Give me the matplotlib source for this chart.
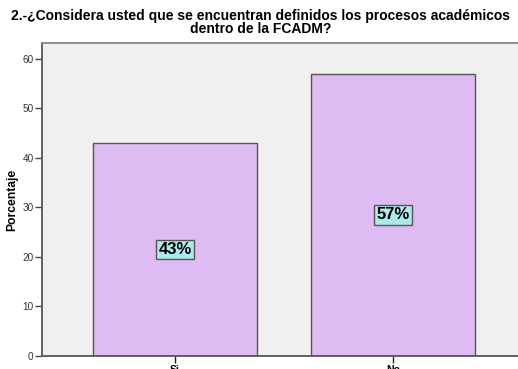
import matplotlib
matplotlib.use("Agg")
import matplotlib.pyplot as plt

categories = ["Si", "No"]
percentages = [43, 57]
title = "2.-¿Considera usted que se encuentran definidos los procesos académicos\ndentro de la FCADM?"
y_ticks = [0, 10, 20, 30, 40, 50, 60]

plt.rcParams["font.family"] = ["Liberation Sans", "DejaVu Sans"]

fig = plt.figure(figsize=(5.18, 3.69), dpi=100)
ax = fig.add_axes([0.0811, 0.0352, 0.93, 0.8483])
ax.set_facecolor("#f0f0f0")

x = list(range(len(categories)))
ax.bar(x, percentages, width=0.752, color="#dfbbf3", edgecolor="#555555",
       linewidth=1.0, zorder=2)

for xi, v in zip(x, percentages):
    ax.text(xi, v / 2, f"{v:.0f}%", ha="center", va="center",
            fontsize=12, fontweight="bold", color="black", zorder=3,
            bbox=dict(boxstyle="square,pad=0.14", facecolor="#aee8e8",
                      edgecolor="#555555", linewidth=1.0))

ax.set_xlim(-0.61, 1.60)
ax.set_ylim(0, 63.2)
ax.set_xticks(x)
ax.set_xticklabels(categories, fontsize=7.5, fontweight="bold")
ax.set_yticks(y_ticks)
ax.tick_params(axis="y", labelsize=7.2, labelcolor="#333333", length=5,
               width=1, color="#444444", pad=1)
ax.tick_params(axis="x", length=5, width=1, color="#222222", pad=1.5)

ax.spines["left"].set_color("#555555")
ax.spines["left"].set_linewidth(1.3)
ax.spines["bottom"].set_color("#555555")
ax.spines["bottom"].set_linewidth(1.3)
ax.spines["top"].set_color("#888888")
ax.spines["top"].set_linewidth(1.3)
ax.spines["right"].set_visible(False)

ax.set_ylabel("Porcentaje", fontsize=8.7, fontweight="bold", labelpad=3)

fig.text(0.503, 0.975, title, ha="center", va="top", fontsize=10,
         fontweight="bold", linespacing=0.88)

fig.savefig("out.png", dpi=100)
